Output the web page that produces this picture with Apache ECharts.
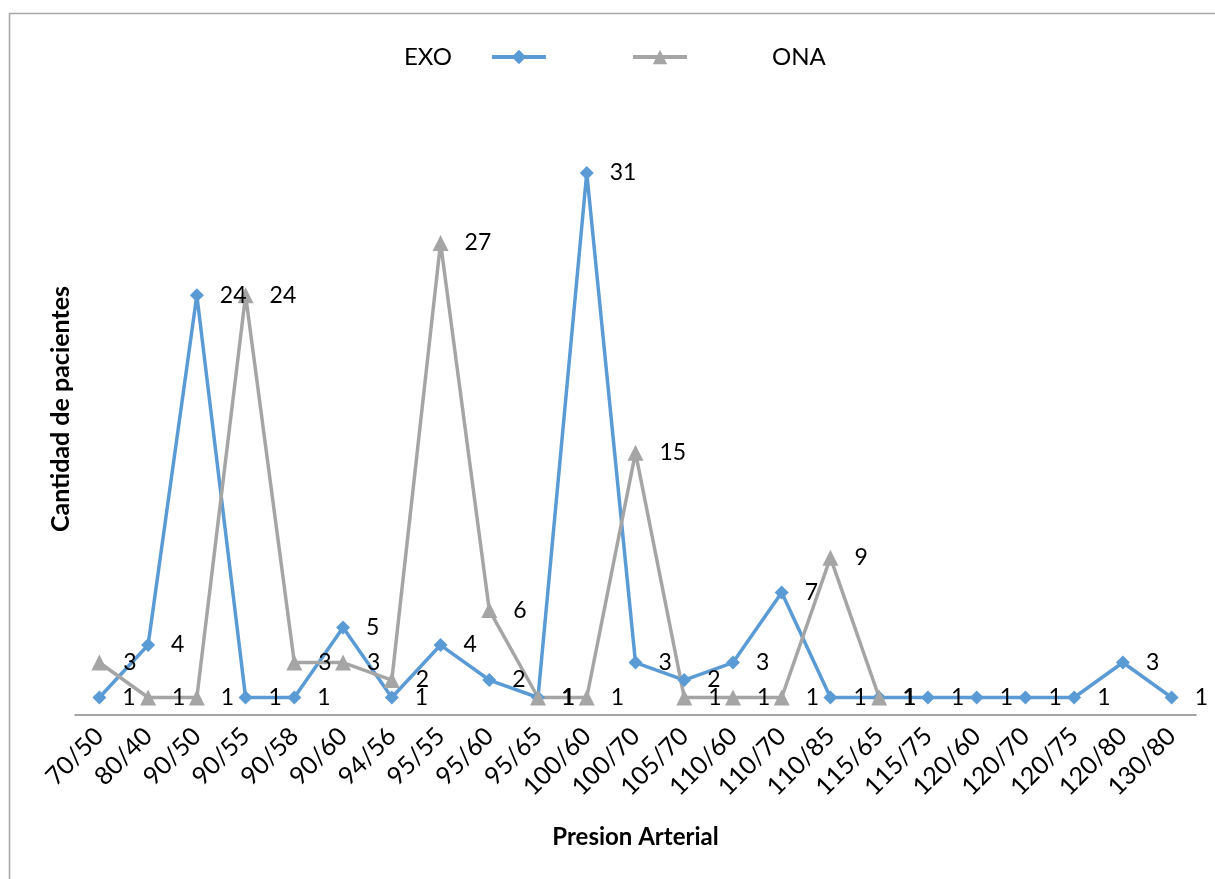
<!DOCTYPE html>
<html>
<head>
<meta charset="utf-8">
<script src="https://cdn.jsdelivr.net/npm/echarts@6/dist/echarts.min.js"></script>
<style>
  html, body { margin: 0; padding: 0; background: #fff; }
  #chart { width: 1215px; height: 879px; }
</style>
</head>
<body>
<div id="chart"></div>
<script>
// Blood-pressure readings (systolic/diastolic) on the x axis
const categories = ['70/50', '80/40', '90/50', '90/55', '90/58', '90/60', '94/56', '95/55', '95/60', '95/65',
  '100/60', '100/70', '105/70', '110/60', '110/70', '110/85', '115/65', '115/75', '120/60', '120/70',
  '120/75', '120/80', '130/80'];

// Number of patients per reading, by group
const exoValues = [1, 4, 24, 1, 1, 5, 1, 4, 2, 1, 31, 3, 2, 3, 7, 1, 1, 1, 1, 1, 1, 3, 1];
const onaValues = [3, 1, 1, 24, 3, 3, 2, 27, 6, 1, 1, 15, 1, 1, 1, 9, 1, null, null, null, null, null, null];

const seriesNames = ['EXO', 'ONA'];
const xTitle = 'Presion Arterial';
const yTitle = 'Cantidad de pacientes';

const FONT = 'Lato, "Open Sans", sans-serif';
const BLUE = '#5B9BD5';
const GRAY = '#A5A5A5';

const chart = echarts.init(document.getElementById('chart'), null, { renderer: 'canvas' });

function lineSeries(name, data, color, symbol) {
  return {
    name: name,
    type: 'line',
    data: data,
    symbol: symbol,
    symbolSize: symbol === 'diamond' ? 14 : 16,
    showAllSymbol: true,
    connectNulls: false,
    lineStyle: { color: color, width: 3.5 },
    itemStyle: { color: color },
    label: {
      show: true,
      position: 'right',
      distance: 16,
      color: '#000',
      fontFamily: FONT,
      fontSize: 23
    },
    emphasis: { disabled: true },
    animation: false
  };
}

const legendBase = {
  top: 45,
  padding: 0,
  itemWidth: 54,
  itemHeight: 18,
  lineStyle: { width: 4 },
  selectedMode: false
};

chart.setOption({
  backgroundColor: '#fff',
  animation: false,
  graphic: [{
    type: 'rect',
    left: 7, top: 11,
    shape: { width: 1215, height: 879 },
    style: { fill: 'none', stroke: '#A6A6A6', lineWidth: 1.5 },
    silent: true
  }],
  legend: [Object.assign({}, legendBase, {
    data: [seriesNames[0]],
    left: 404,
    align: 'right',
    textStyle: { fontFamily: FONT, fontSize: 24, color: '#000', padding: [0, 35, 0, 0] }
  }), Object.assign({}, legendBase, {
    data: [seriesNames[1]],
    left: 631,
    align: 'left',
    textStyle: { fontFamily: FONT, fontSize: 24, color: '#000', padding: [0, 0, 0, 80] }
  })],
  grid: { left: 75, right: 19, top: 103, bottom: 164, containLabel: false },
  xAxis: {
    type: 'category',
    data: categories,
    boundaryGap: true,
    name: xTitle,
    nameLocation: 'middle',
    nameGap: 110,
    nameTextStyle: { fontFamily: FONT, fontSize: 24, fontWeight: 'bold', color: '#000' },
    axisLine: { show: true, lineStyle: { color: '#868686', width: 1.5 } },
    axisTick: { show: false },
    axisLabel: {
      interval: 0,
      rotate: 45,
      margin: 17,
      fontFamily: FONT,
      fontSize: 25,
      color: '#000'
    }
  },
  yAxis: {
    type: 'value',
    min: 0,
    max: 35,
    interval: 5,
    name: yTitle,
    nameLocation: 'middle',
    nameGap: 2,
    nameTextStyle: { fontFamily: FONT, fontSize: 25, fontWeight: 'bold', color: '#000' },
    axisLine: { show: false },
    axisTick: { show: false },
    axisLabel: { show: false },
    splitLine: { show: false }
  },
  series: [
    lineSeries(seriesNames[0], exoValues, BLUE, 'diamond'),
    lineSeries(seriesNames[1], onaValues, GRAY, 'triangle')
  ]
});
</script>
</body>
</html>
